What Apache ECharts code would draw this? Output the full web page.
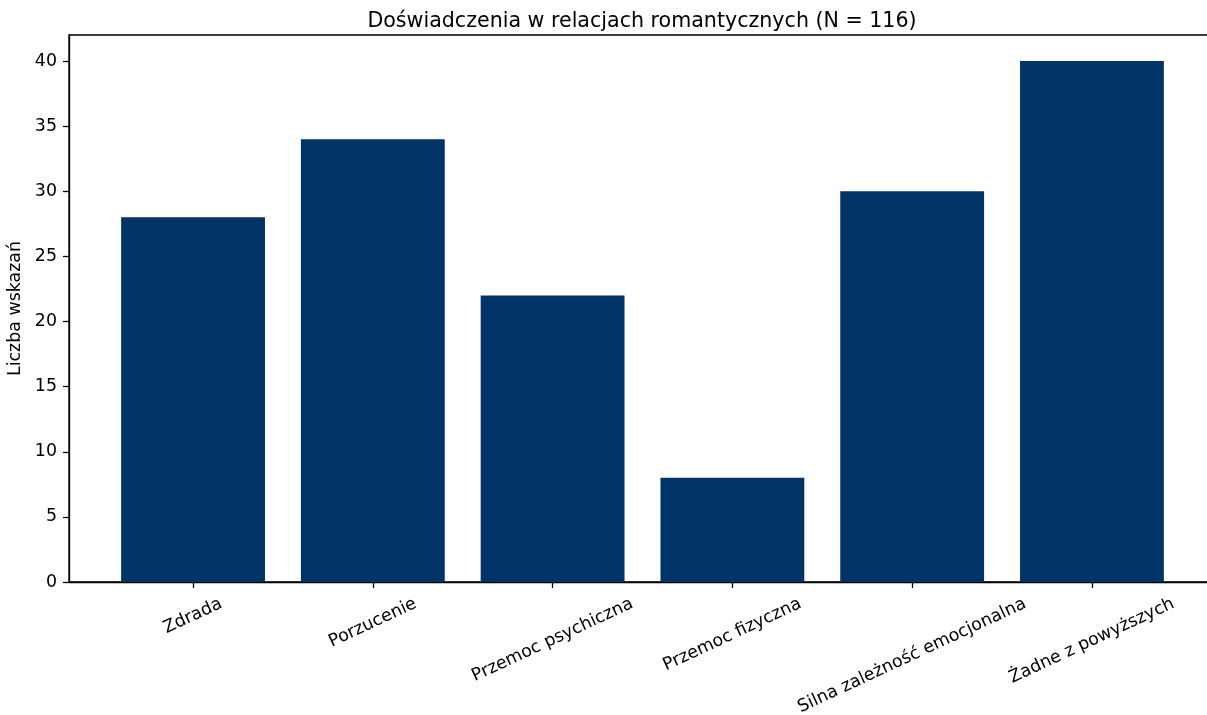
<!DOCTYPE html>
<html>
<head>
<meta charset="utf-8">
<script src="https://cdn.jsdelivr.net/npm/echarts@6/dist/echarts.min.js"></script>
<style>
  html, body { margin: 0; padding: 0; background: #fff; }
  #chart { width: 1207px; height: 715px; }
</style>
</head>
<body>
<div id="chart"></div>
<script>
var categories = ['Zdrada', 'Porzucenie', 'Przemoc psychiczna', 'Przemoc fizyczna', 'Silna zależność emocjonalna', 'Żadne z powyższych'];
var counts = [28, 34, 22, 8, 30, 40];
var yTicks = [0, 5, 10, 15, 20, 25, 30, 35, 40];

var FONT = '"DejaVu Sans", sans-serif';
var TICK_FS = 17.4;
var ROT = 25;
var BOX_H = 20;   // matplotlib text box height
var INNER_H = TICK_FS; // zrender content height

// grid geometry: x range like matplotlib (-0.69 .. 5.69), right edge runs off the page
var gridLeft = 69, gridTop = 35, gridW = 1147, gridH = 547;
var xMin = -0.69, xMax = 5.69;
var unit = gridW / (xMax - xMin);

// padding per label so the rotated text sits centred under its tick
var ctx = document.createElement('canvas').getContext('2d');
ctx.font = TICK_FS + 'px ' + FONT;
var th = ROT * Math.PI / 180, s = Math.sin(th), c = Math.cos(th);
var rich = {};
categories.forEach(function (name, i) {
  var L = ctx.measureText(name).width;
  var D = (L * s + BOX_H * c) / 2;
  rich['r' + i] = {
    fontFamily: FONT, fontSize: TICK_FS, color: '#000',
    padding: [Math.max(0, D * c - INNER_H / 2), 2 * D * s, 0, 0]
  };
});

var chart = echarts.init(document.getElementById('chart'));
chart.setOption({
  animation: false,
  title: {
    text: 'Doświadczenia w relacjach romantycznych (N = 116)',
    left: 637, textAlign: 'center', top: 6,
    textStyle: { fontFamily: FONT, fontSize: 20.6, fontWeight: 'normal', color: '#000' }
  },
  grid: { left: gridLeft, top: gridTop, width: gridW, height: gridH,
    containLabel: false, outerBoundsMode: 'none',
    show: true, borderColor: '#000', borderWidth: 1.3 },
  xAxis: {
    type: 'value', min: xMin, max: xMax,
    splitLine: { show: false },
    axisLine: { onZero: false, lineStyle: { color: '#000', width: 1.3 } },
    axisTick: { show: true, length: 6, customValues: [0, 1, 2, 3, 4, 5], lineStyle: { color: '#000', width: 1.3 } },
    axisLabel: {
      customValues: [0, 1, 2, 3, 4, 5],
      rotate: ROT, align: 'center', verticalAlign: 'top', margin: 12,
      rich: rich,
      formatter: function (v) { return '{r' + v + '|' + categories[v] + '}'; }
    }
  },
  yAxis: {
    type: 'value', min: 0, max: 42,
    name: 'Liczba wskazań', nameLocation: 'middle', nameGap: 43,
    nameTextStyle: { fontFamily: FONT, fontSize: TICK_FS, color: '#000' },
    splitLine: { show: false },
    axisLine: { show: true, onZero: false, lineStyle: { color: '#000', width: 1.3 } },
    axisTick: { show: true, length: 6, customValues: yTicks, lineStyle: { color: '#000', width: 1.3 } },
    axisLabel: { customValues: yTicks, fontFamily: FONT, fontSize: TICK_FS, color: '#000', margin: 12 }
  },
  series: [{
    type: 'bar',
    barWidth: 0.8 * unit,
    itemStyle: { color: '#003366' },
    data: counts.map(function (v, i) { return [i, v]; })
  }]
});
</script>
</body>
</html>
